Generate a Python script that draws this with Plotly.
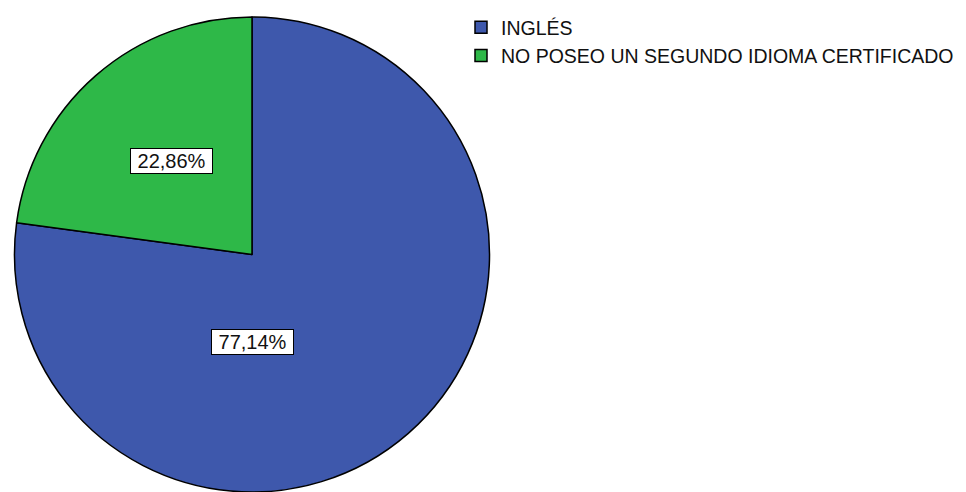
import plotly.graph_objects as go

# =========================
# DATA
# =========================
LABELS = ["INGLÉS", "NO POSEO UN SEGUNDO IDIOMA CERTIFICADO"]
PERCENTS = [77.14, 22.86]
COLORS = ["#3E58AC", "#2EB848"]

FONT = dict(family="Liberation Sans, Arial", size=20, color="#111111")
LEGEND_FONT = dict(family="Liberation Sans, Arial", size=19.5, color="#111111")

# page body keeps its default 8px margin, so the figure is a bit smaller
W, H = 958, 484


def pct_text(v):
    return f" {v:.2f}%".replace(".", ",") + " "


fig = go.Figure()

fig.add_trace(go.Pie(
    labels=LABELS,
    values=PERCENTS,
    sort=False,
    direction="clockwise",
    rotation=0,
    marker=dict(colors=COLORS, line=dict(color="#000000", width=1.5)),
    textinfo="none",
    hoverinfo="label+percent",
    domain=dict(x=[3 / W, 485 / W], y=[0, 1 - 5 / H]),
))

# label boxes, as in the SPSS output
label_pos = [(244, 333), (163, 150)]
annotations = []
for v, (px, py) in zip(PERCENTS, label_pos):
    annotations.append(dict(
        text=pct_text(v),
        x=px / W, y=1 - py / H,
        xref="paper", yref="paper",
        xanchor="center", yanchor="middle",
        showarrow=False,
        font=FONT,
        bgcolor="white",
        bordercolor="#000000",
        borderwidth=1,
        borderpad=1,
    ))

fig.update_layout(
    width=W,
    height=H,
    margin=dict(l=0, r=0, t=0, b=0),
    paper_bgcolor="white",
    plot_bgcolor="white",
    font=FONT,
    showlegend=True,
    legend=dict(
        x=453 / W, y=1 + 4 / H,
        xanchor="left", yanchor="top",
        font=LEGEND_FONT,
        bgcolor="rgba(0,0,0,0)",
        tracegroupgap=0,
    ),
    annotations=annotations,
)

fig.write_html("out.html")
